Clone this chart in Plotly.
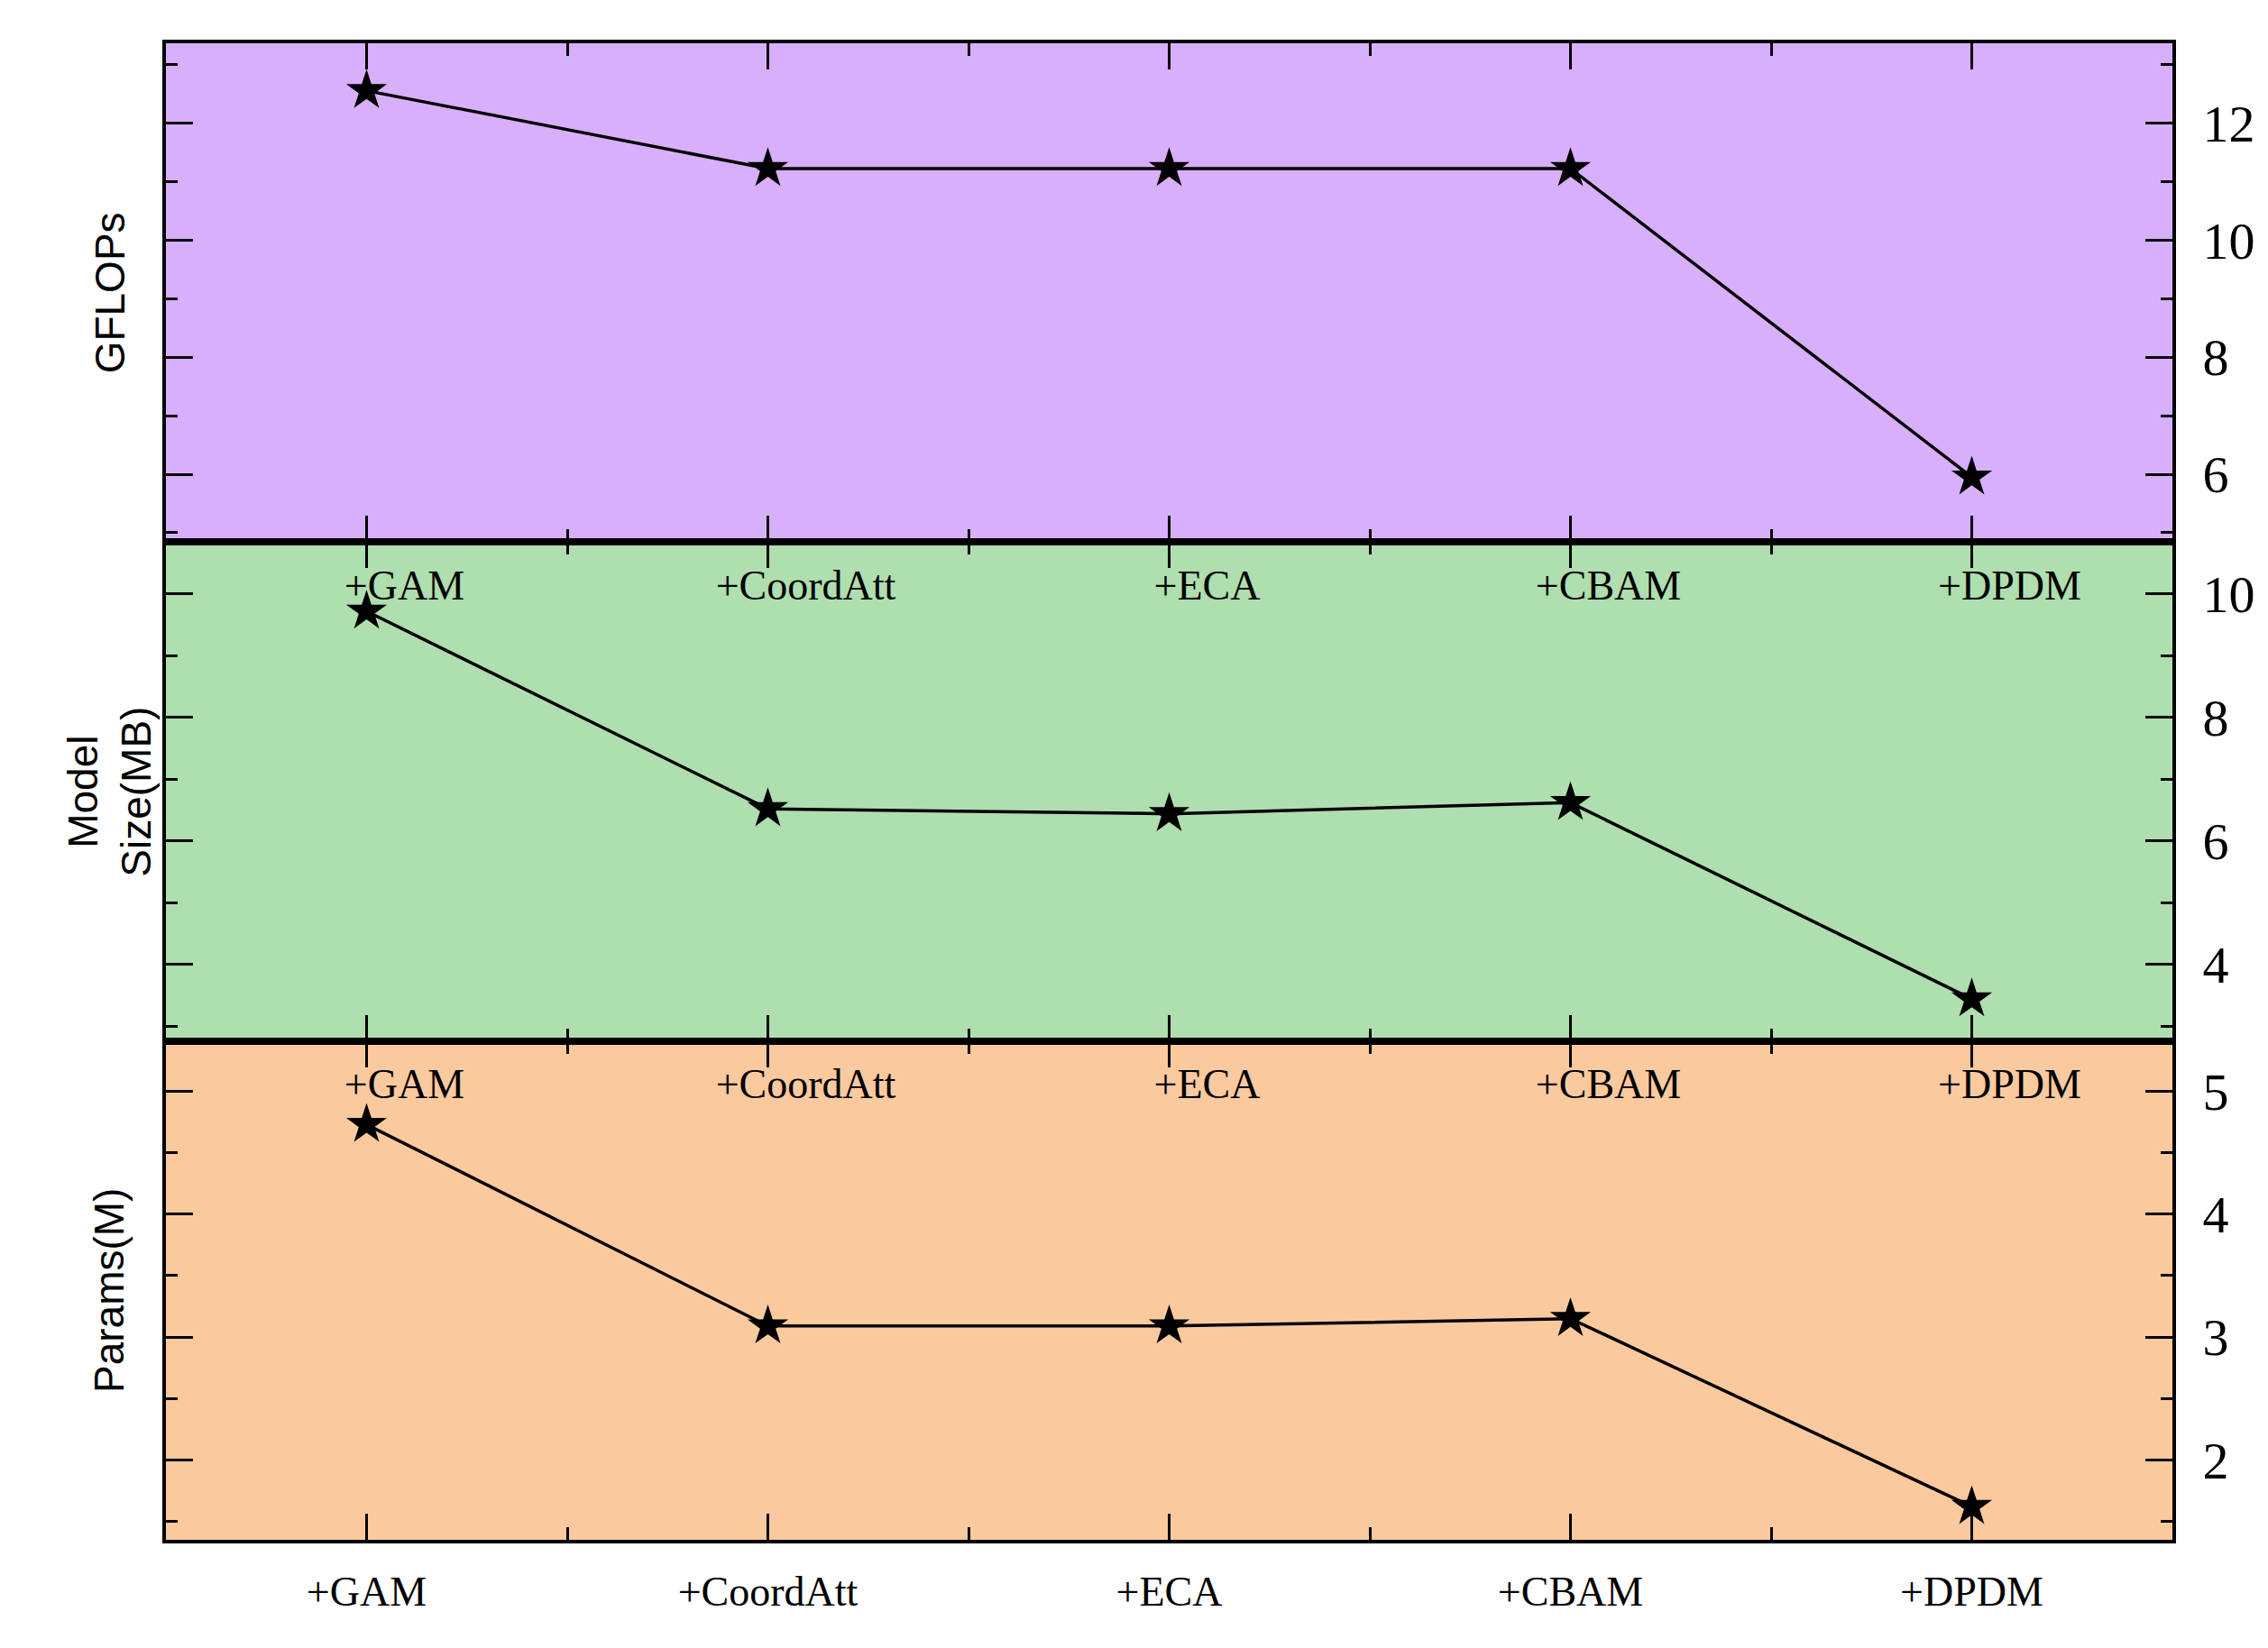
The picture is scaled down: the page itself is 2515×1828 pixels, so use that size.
import plotly.graph_objects as go
from plotly.subplots import make_subplots

categories = ["+GAM", "+CoordAtt", "+ECA", "+CBAM", "+DPDM"]
gflops = [12.55, 11.22, 11.22, 11.22, 5.95]
model_size = [9.72, 6.52, 6.44, 6.62, 3.44]
params = [4.73, 3.09, 3.09, 3.15, 1.62]

panels = [
    ("GFLOPs", gflops, "#D8AFFB", [4.84, 13.36], [6, 8, 10, 12]),
    ("Model<br>Size(MB)", model_size, "#AFDEAF", [2.76, 10.84], [4, 6, 8, 10]),
    ("Params(M)", params, "#FACA9E", [1.35, 5.41], [2, 3, 4, 5]),
]

fig = make_subplots(rows=3, cols=1, vertical_spacing=0)
xs = list(range(len(categories)))
for i, (title, vals, color, yr, ticks) in enumerate(panels, start=1):
    fig.add_trace(go.Scatter(x=xs, y=vals, mode="lines+markers",
                             line=dict(color="black", width=3.5),
                             marker=dict(symbol="star", size=34, color="black"),
                             showlegend=False), row=i, col=1)
    fig.update_xaxes(range=[-0.5, 4.5], tickmode="array", tickvals=xs, ticktext=categories,
                     ticks="inside", ticklen=29, tickwidth=3, tickcolor="black",
                     minor=dict(tickmode="array", tickvals=[0.5, 1.5, 2.5, 3.5], ticks="inside",
                                ticklen=14, tickwidth=3, tickcolor="black"),
                     showline=True, linewidth=4, linecolor="black", mirror="ticks",
                     showgrid=False, zeroline=False,
                     tickfont=dict(family="Liberation Serif", size=46, color="black"),
                     ticklabelshift=(42 if i < 3 else 0), ticklabelstandoff=(4 if i < 3 else 14),
                     row=i, col=1)
    fig.update_yaxes(range=yr, side="right", tickvals=ticks,
                     ticks="inside", ticklen=30, tickwidth=3, tickcolor="black",
                     minor=dict(dtick=1 if i < 3 else 0.5, ticks="inside", ticklen=13,
                                tickwidth=3, tickcolor="black"),
                     showline=True, linewidth=4, linecolor="black", mirror="ticks",
                     showgrid=False, zeroline=False,
                     tickfont=dict(family="Liberation Serif", size=58, color="black"),
                     ticklabelstandoff=18,
                     row=i, col=1)
    ax = "" if i == 1 else str(i)
    fig.add_shape(type="rect", xref=f"x{ax} domain", yref=f"y{ax} domain",
                  x0=0, x1=1, y0=0, y1=1, fillcolor=color, line_width=0, layer="below")
    fig.add_annotation(text=title, xref="paper", yref=f"y{ax} domain", x=-0.028, y=0.5,
                       textangle=-90, showarrow=False, xanchor="center", yanchor="middle",
                       font=dict(family="Liberation Sans", size=46, color="black"))

fig.update_layout(width=2515, height=1828, margin=dict(l=176, r=114, t=40, b=128),
                  plot_bgcolor="white", paper_bgcolor="white")
fig.write_html("out.html")
